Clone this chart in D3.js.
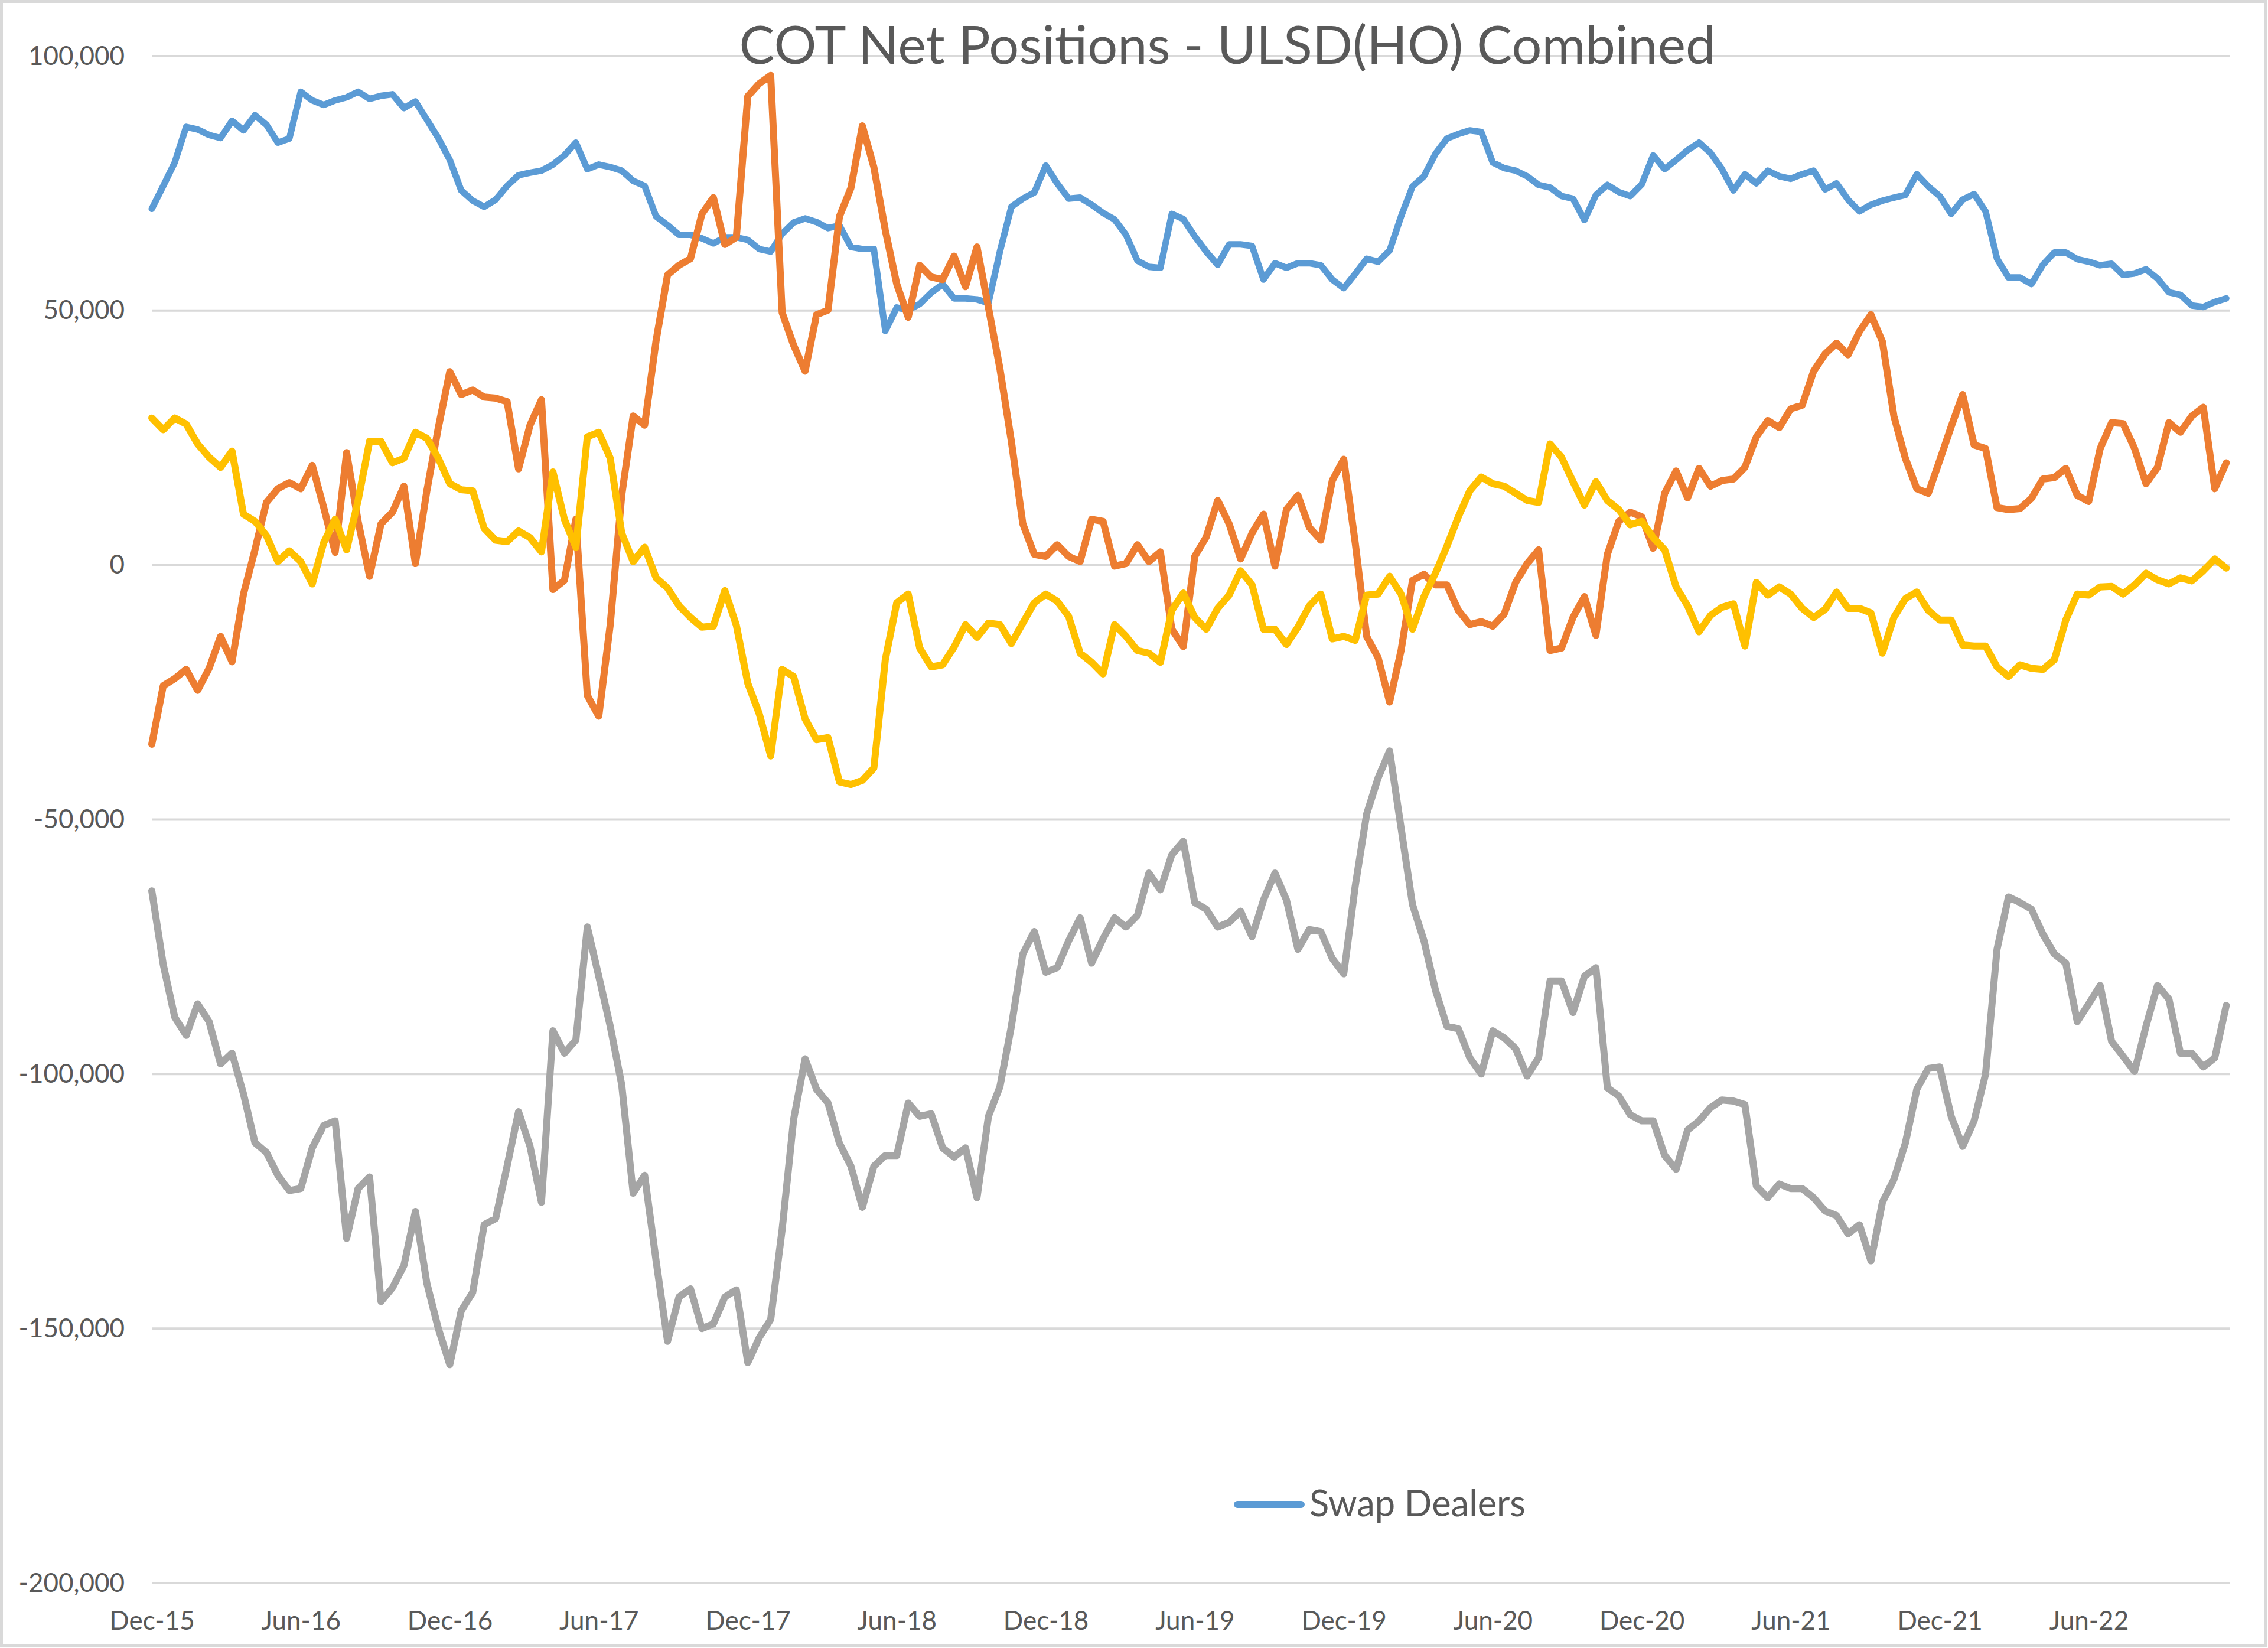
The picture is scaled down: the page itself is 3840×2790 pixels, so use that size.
<!DOCTYPE html>
<html>
<head>
<meta charset="utf-8">
<script src="https://cdn.jsdelivr.net/npm/d3@7"></script>
<style>
  html, body { margin: 0; padding: 0; background: #ffffff; }
  svg { display: block; }
  text { font-family: Lato, "Open Sans", "DejaVu Sans", sans-serif; fill: #595959; }
</style>
</head>
<body>
<script>
// ---------------- DATA ----------------
const chartTitle = "COT Net Positions - ULSD(HO) Combined";
// bi-weekly report dates starting Dec 15 2015 (categories)
const startDate = Date.UTC(2015, 11, 15);
const dates = d3.range(182).map(i => new Date(startDate + i * 14 * 864e5));
const tickIndex = [0, 13, 26, 39, 52, 65, 78, 91, 104, 117, 130, 143, 156, 169];
const tickLabels = ["Dec-15","Jun-16","Dec-16","Jun-17","Dec-17","Jun-18","Dec-18","Jun-19","Dec-19","Jun-20","Dec-20","Jun-21","Dec-21","Jun-22"];
const yTicks = [100000, 50000, 0, -50000, -100000, -150000, -200000];

const swapDealers = [
70000,74500,79100,86100,85600,84500,83900,87300,85400,88400,86500,83000,83800,93000,91300,90400,91300,91900,93000,91600,
92200,92500,89800,91100,87500,83900,79600,73600,71600,70400,71800,74500,76600,77100,77500,78700,80500,83000,77800,78700,
78200,77500,75500,74500,68500,66800,64900,64900,64200,63200,64400,64400,63900,62100,61600,65100,67300,68100,67400,66200,
66700,62500,62100,62100,46000,50600,50100,51300,53500,55200,52400,52400,52200,51500,61600,70400,72000,73200,78500,75000,
72000,72200,70800,69200,67900,64900,59800,58600,58400,69000,68000,64600,61600,59000,63000,63000,62700,56100,59300,58400,
59300,59300,58900,56100,54400,57200,60200,59600,61800,68500,74400,76400,80800,83800,84700,85400,85100,79100,78000,77500,
76400,74700,74200,72500,72000,67800,72700,74700,73300,72500,74800,80500,77800,79600,81500,83000,81000,77800,73600,76800,
75000,77500,76400,75900,76800,77500,73800,75000,71800,69500,70800,71600,72200,72700,76800,74400,72500,69000,71800,72900,
69500,60200,56500,56500,55200,59000,61400,61400,60100,59600,58900,59200,57000,57300,58100,56300,53600,53100,51000,50700,
51700,52400];

const managedMoney = [
-35200,-23700,-22300,-20500,-24600,-20300,-14000,-19000,-5700,3000,12300,15000,16200,15000,19600,11300,2500,22100,8600,-2200,
8100,10400,15500,300,14600,27000,38000,33500,34400,33000,32800,32100,18900,27500,32500,-4800,-3000,9000,-25600,-29700,
-11700,13700,29300,27500,44100,57000,58900,60200,69000,72200,63000,64400,92100,94600,96200,49600,43200,38100,49200,50100,
68500,74100,86300,78200,65800,55200,48700,58900,56600,56100,60700,54700,62500,50600,38600,24300,8100,2100,1700,4000,
1700,700,9000,8600,-200,300,4000,700,2600,-12600,-16000,1700,5500,12700,8100,1200,6300,10000,-200,10900,
13700,7400,4900,16600,20800,4400,-14000,-18200,-26900,-16800,-3000,-1800,-3900,-3900,-8900,-11700,-11100,-12000,-9600,-3400,
300,3000,-16800,-16300,-10300,-6200,-13800,2100,8600,10400,9500,3300,14100,18500,13200,19000,15500,16600,16900,19200,
25200,28400,27000,30700,31400,38100,41500,43600,41300,45900,49200,43900,29300,21000,15000,14100,20600,27200,33500,23600,
22900,11300,10900,11100,13100,16900,17200,19000,13700,12500,22900,28000,27800,22900,16000,19200,28000,26100,29300,31000,
15000,20100];

const producerMerchant = [
-64000,-78500,-88800,-92400,-86200,-89700,-98000,-95900,-103900,-113500,-115400,-119900,-122900,-122500,-114500,-110100,-109200,-132300,-122500,-120200,
-144700,-142000,-137600,-127000,-141100,-150000,-157100,-146500,-142900,-129600,-128400,-118100,-107400,-114200,-125200,-91500,-95900,-93300,-71100,-80800,
-90600,-102100,-123400,-119900,-136700,-152500,-143800,-142200,-150000,-149100,-143800,-142400,-156700,-151800,-148200,-130500,-108900,-97000,-103000,-105700,
-113600,-118100,-126200,-118100,-116000,-116000,-105700,-108300,-107800,-114500,-116300,-114500,-124300,-108300,-102500,-90600,-76400,-72000,-80000,-79100,
-73800,-69300,-78200,-73400,-69300,-71100,-68800,-60500,-63800,-56900,-54300,-66300,-67600,-71100,-70200,-68000,-73000,-65800,-60500,-65800,
-75500,-71600,-72000,-77300,-80300,-63100,-48900,-41800,-36500,-51600,-66700,-73800,-83500,-90600,-91100,-96800,-100000,-91500,-92900,-95000,
-100400,-96800,-81700,-81700,-87900,-80800,-79100,-102700,-104300,-108000,-109200,-109200,-116000,-118700,-111000,-109200,-106600,-105100,-105300,-106000,
-122000,-124300,-121600,-122500,-122500,-124300,-126900,-127800,-131400,-129600,-136700,-125200,-120700,-113600,-103000,-98900,-98600,-108300,-114200,-109200,
-100000,-75500,-65200,-66300,-67600,-72500,-76400,-78200,-89700,-86200,-82600,-93600,-96500,-99500,-90600,-82600,-85300,-95900,-95900,-98600,
-96800,-86500];

const otherReportables = [
28900,26600,28900,27700,23800,21200,19200,22400,10000,8600,5800,700,2800,700,-3700,4400,9000,3000,12700,24300,
24300,20100,21000,26100,24900,21000,16000,14800,14600,7200,4900,4600,6700,5400,2600,18300,9000,3500,25200,26100,
21000,6300,700,3500,-2500,-4500,-8000,-10300,-12200,-12000,-5000,-11800,-23200,-29200,-37500,-20500,-21900,-30200,-34300,-33900,
-42600,-43100,-42300,-39900,-18600,-7400,-5700,-16300,-20000,-19600,-16100,-11700,-14200,-11400,-11700,-15400,-11400,-7400,-5700,-7100,
-10100,-17300,-19100,-21400,-11700,-14000,-16800,-17300,-19100,-8900,-5500,-10300,-12600,-8500,-5900,-1100,-3900,-12600,-12600,-15600,
-12200,-8000,-5700,-14500,-14000,-14800,-5900,-5700,-2200,-5700,-12600,-6200,-1600,3700,9500,14600,17300,16000,15500,14100,
12700,12300,23800,21200,16400,11800,16400,12700,10900,7900,8600,5400,3000,-4300,-8000,-13100,-9900,-8300,-7600,-15900,
-3400,-5900,-4300,-5700,-8500,-10300,-8700,-5300,-8500,-8500,-9400,-17300,-10300,-6600,-5300,-8900,-10800,-10800,-15700,-15900,
-15900,-20000,-21900,-19600,-20300,-20500,-18600,-10800,-5700,-5900,-4300,-4200,-5700,-3900,-1600,-2900,-3700,-2500,-3100,-1100,
1200,-600];

const seriesDefs = [
  { name: "Swap Dealers",      values: swapDealers,      color: "#5B9BD5" },
  { name: "Managed Money",     values: managedMoney,     color: "#ED7D31" },
  { name: "Producer/Merchant", values: producerMerchant, color: "#A5A5A5" },
  { name: "Other Reportables", values: otherReportables, color: "#FFC000" }
];
const legendItems = ["Swap Dealers"];

// ---------------- LAYOUT ----------------
const W = 3840, H = 2790;
const plot = { left: 257, right: 3779, top: 95, bottom: 2680 };

const svg = d3.select("body").append("svg").attr("width", W).attr("height", H);
svg.append("rect").attr("x", 0).attr("y", 0).attr("width", W).attr("height", H).attr("fill", "#ffffff");
svg.append("rect").attr("x", 2.5).attr("y", 2.5).attr("width", W - 7).attr("height", H - 6)
   .attr("fill", "none").attr("stroke", "#d9d9d9").attr("stroke-width", 5);

const x = d3.scaleUtc()
  .domain([dates[0], new Date(startDate + 363 * 7 * 864e5)])
  .range([plot.left, plot.right]);
const y = d3.scaleLinear().domain([-200000, 100000]).range([plot.bottom, plot.top]);

const locale = d3.formatLocale({ decimal: ".", thousands: ",", grouping: [3], currency: ["$", ""], minus: "-" });
const fmt = locale.format(",");

// gridlines
svg.append("g").selectAll("line").data(yTicks).join("line")
  .attr("x1", plot.left).attr("x2", 3776)
  .attr("y1", d => y(d)).attr("y2", d => y(d))
  .attr("stroke", "#d9d9d9").attr("stroke-width", 4);

// y axis labels
const yAxis = d3.axisLeft(y).tickValues(yTicks).tickFormat(fmt).tickSize(0).tickPadding(0);
const gy = svg.append("g").attr("transform", `translate(211,0)`).call(yAxis);
gy.select(".domain").remove();
gy.selectAll("text").attr("font-size", 44).attr("fill", "#595959")
  .style("font-family", "Lato, 'Open Sans', sans-serif");

// x axis labels
const xAxis = d3.axisBottom(x)
  .tickValues(tickIndex.map(i => dates[i]))
  .tickFormat((d, i) => tickLabels[i])
  .tickSize(0).tickPadding(0);
const gx = svg.append("g").attr("transform", `translate(0,2728)`).call(xAxis);
gx.select(".domain").remove();
gx.selectAll("text").attr("font-size", 44).attr("fill", "#595959").attr("dy", "0.71em")
  .style("font-family", "Lato, 'Open Sans', sans-serif");

// lines
const line = d3.line().x((d, i) => x(dates[i])).y(d => y(d));
svg.append("g").selectAll("path").data(seriesDefs).join("path")
  .attr("d", d => line(d.values))
  .attr("fill", "none")
  .attr("stroke", d => d.color)
  .attr("stroke-width", d => d.name === "Swap Dealers" ? 11 : 12)
  .attr("stroke-linejoin", "round")
  .attr("stroke-linecap", "round");

// title
const title = svg.append("text").text(chartTitle)
  .attr("x", 2078).attr("y", 108).attr("text-anchor", "middle")
  .attr("font-size", 90).attr("fill", "#595959");
const tw = title.node().getComputedTextLength();
title.attr("font-size", 90 * 1653 / tw);

// legend
const lg = svg.append("g");
legendItems.forEach(name => {
  const s = seriesDefs.find(d => d.name === name);
  lg.append("line").attr("x1", 2095).attr("x2", 2203).attr("y1", 2547).attr("y2", 2547)
    .attr("stroke", s.color).attr("stroke-width", 12).attr("stroke-linecap", "round");
  const t = lg.append("text").text(name).attr("x", 2217).attr("y", 2567)
    .attr("font-size", 61).attr("fill", "#595959");
  const lw = t.node().getComputedTextLength();
  t.attr("font-size", 61 * 366 / lw);
});
</script>
</body>
</html>
